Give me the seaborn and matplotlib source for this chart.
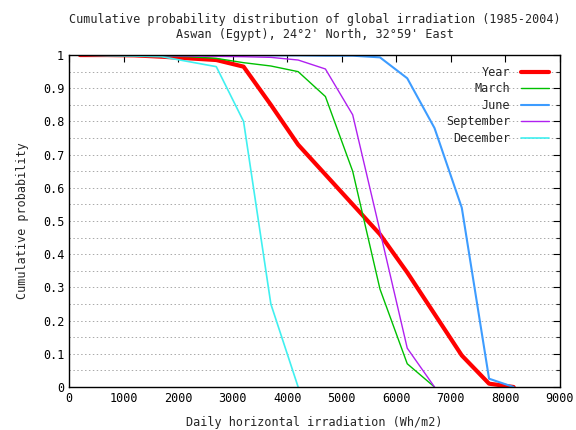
import matplotlib
matplotlib.use("Agg")
import matplotlib.pyplot as plt
import seaborn as sns
import pandas as pd

# irradiation values (Wh/m2), 500 Wh steps
x_vals = [200, 700, 1200, 1700, 2200, 2700, 3200, 3700, 4200, 4700,
          5200, 5700, 6200, 6700, 7200, 7700, 8150]

year = [1.0, 1.0, 0.999, 0.995, 0.99, 0.985, 0.965, 0.85, 0.73, 0.64,
        0.55, 0.46, 0.345, 0.22, 0.095, 0.01, 0.0]
march = [1.0, 1.0, 1.0, 0.998, 0.995, 0.99, 0.977, 0.967, 0.95, 0.875,
         0.65, 0.295, 0.07, 0.0, None, None, None]
june = [1.0, 1.0, 1.0, 1.0, 1.0, 1.0, 1.0, 0.999, 0.999, 0.998,
        0.998, 0.993, 0.93, 0.78, 0.54, 0.025, 0.0]
september = [1.0, 1.0, 1.0, 0.998, 0.997, 0.996, 0.995, 0.993, 0.985, 0.958,
             0.82, 0.47, 0.117, 0.0, None, None, None]
december = [1.0, 0.998, 0.997, 0.995, 0.98, 0.965, 0.8, 0.25, 0.0,
            None, None, None, None, None, None, None, None]

series = {"Year": year, "March": march, "June": june,
          "September": september, "December": december}
colors = {"Year": "#ff0000", "March": "#00c000", "June": "#3d9cff",
          "September": "#b020f0", "December": "#40f0f0"}
widths = {"Year": 3.0, "March": 1.0, "June": 1.5, "September": 1.0, "December": 1.2}

rows = []
for name, vals in series.items():
    for xv, yv in zip(x_vals, vals):
        if yv is not None:
            rows.append({"x": xv, "p": yv, "series": name})
df = pd.DataFrame(rows)

sns.set_style("white")
plt.rcParams["font.family"] = ["DejaVu Sans Mono"]
plt.rcParams["font.size"] = 8.5

fig = plt.figure(figsize=(5.76, 4.30), dpi=100)
ax = fig.add_axes([0.1198, 0.1, 0.8524, 0.772])

# dotted horizontal grid every 0.05
for g in [i * 0.05 for i in range(1, 20)]:
    ax.axhline(g, color="#a8a8a8", lw=0.7, ls=(0, (1.5, 2.5)), zorder=0)

for name in series:
    sub = df[df["series"] == name]
    sns.lineplot(data=sub, x="x", y="p", ax=ax, color=colors[name],
                 lw=widths[name], label=name, sort=False, estimator=None)

ax.set_xlim(0, 9000)
ax.set_ylim(0, 1)
ax.set_xticks(range(0, 9001, 1000))
ax.set_yticks([i / 10 for i in range(11)])
ax.set_yticklabels(["0", "0.1", "0.2", "0.3", "0.4", "0.5", "0.6", "0.7", "0.8", "0.9", "1"])
ax.set_yticks([i * 0.05 for i in range(1, 20, 2)], minor=True)
ax.tick_params(direction="in", top=True, right=True, length=5, width=0.8, colors="black")
ax.tick_params(which="minor", direction="in", right=True, length=3, width=0.8)
for s in ax.spines.values():
    s.set_color("black")
    s.set_linewidth(1)

ax.set_xlabel("Daily horizontal irradiation (Wh/m2)", labelpad=8)
ax.set_ylabel("Cumulative probability", labelpad=10)
ax.set_title("Cumulative probability distribution of global irradiation (1985-2004)\n"
             "Aswan (Egypt), 24°2' North, 32°59' East", fontsize=8.5, pad=12)

leg = ax.legend(loc="upper right", frameon=False, markerfirst=False,
                handlelength=2.4, labelspacing=0.3, borderaxespad=0.6,
                handletextpad=0.9, borderpad=0.3)
for t in leg.get_texts():
    t.set_ha("right")

fig.savefig("out.png", dpi=100)
